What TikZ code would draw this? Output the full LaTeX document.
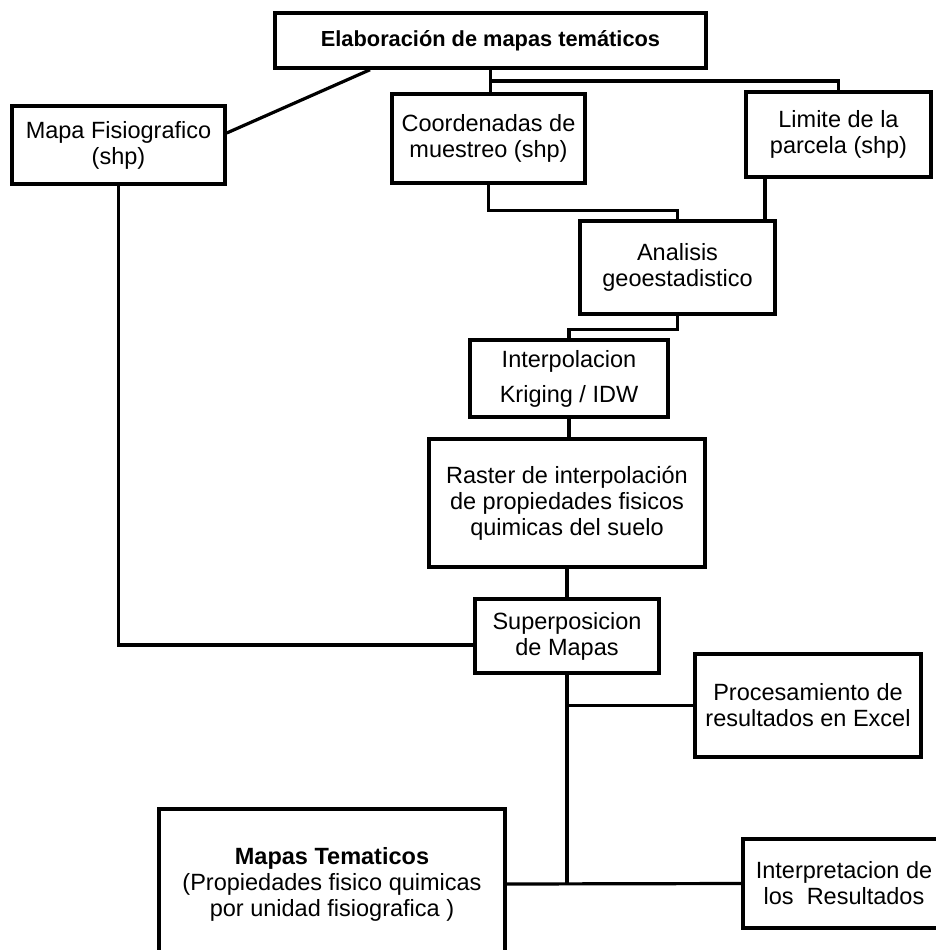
\documentclass[tikz,border=0pt]{standalone}
\usepackage{fontspec}
\setmainfont{Liberation Sans}
\usetikzlibrary{calc}
\begin{document}
\begin{tikzpicture}[x=1pt,y=-1pt,
  box/.style={draw, line width=3.5pt, rectangle, align=center, inner sep=0pt,
    fill=white, font=\fontsize{23.5}{26}\selectfont},
  conn/.style={line width=3.2pt}]
\useasboundingbox[fill=white] (0,0) rectangle (936,950);

\node[box, minimum width=431pt, minimum height=55pt, font=\bfseries\fontsize{21.8}{25}\selectfont] (top) at (490.5,40.5) {Elaboración de mapas temáticos};
\node[box, minimum width=213pt, minimum height=78pt] (fisio) at (118.5,145) {Mapa Fisiografico\\(shp)};
\node[box, minimum width=193pt, minimum height=89pt] (coord) at (488.5,138.5) {Coordenadas de\\muestreo (shp)};
\node[box, minimum width=185pt, minimum height=85pt] (limite) at (838.5,134.5) {Limite de la\\parcela (shp)};
\node[box, minimum width=195pt, minimum height=93pt] (analisis) at (677.5,267.5) {Analisis\\geoestadistico};
\node[box, minimum width=198pt, minimum height=77pt, font=\fontsize{23.5}{35}\selectfont] (interp) at (569,378.5) {Interpolacion\\Kriging / IDW};
\node[box, minimum width=276pt, minimum height=128pt] (raster) at (567,503) {Raster de interpolación\\de propiedades fisicos\\quimicas del suelo};
\node[box, minimum width=184pt, minimum height=74pt] (superpos) at (567,636) {Superposicion\\de Mapas};
\node[box, minimum width=226pt, minimum height=103pt] (proces) at (808,705.5) {Procesamiento de\\resultados en Excel};
\node[box, minimum width=346pt, minimum height=150pt] (mapas) at (332,884) {\textbf{Mapas Tematicos}\\(Propiedades fisico quimicas\\por unidad fisiografica )};
\node[box, minimum width=202pt, minimum height=89pt] (interpret) at (844,883.5) {Interpretacion de\\los\ \ Resultados};

% connectors
\draw[conn] (top.south -| 370,0) -- (fisio.east |- 0,133);
\draw[conn] (top.south) -- (top.south |- coord.north);
\draw[conn] (top.south |- 0,81) -| (limite.north);
\draw[conn] (coord.south) |- ($(analisis.north)+(0,-9)$) -- (analisis.north);
\draw[conn] (limite.south -| 765,0) -- (analisis.north -| 765,0);
\draw[conn] (analisis.south) -- ++(0,14) -| (interp.north);
\draw[conn] (interp.south) -- (interp.south |- raster.north);
\draw[conn] (raster.south) -- (superpos.north);
\draw[conn] (fisio.south) |- ($(superpos.west)+(0,9)$);
\draw[conn] (superpos.south) -- (superpos.south |- interpret.west);
\draw[conn] (superpos.south |- proces.west) -- (proces.west);
\draw[conn] (mapas.east) -- (interpret.west);
\end{tikzpicture}
\end{document}
